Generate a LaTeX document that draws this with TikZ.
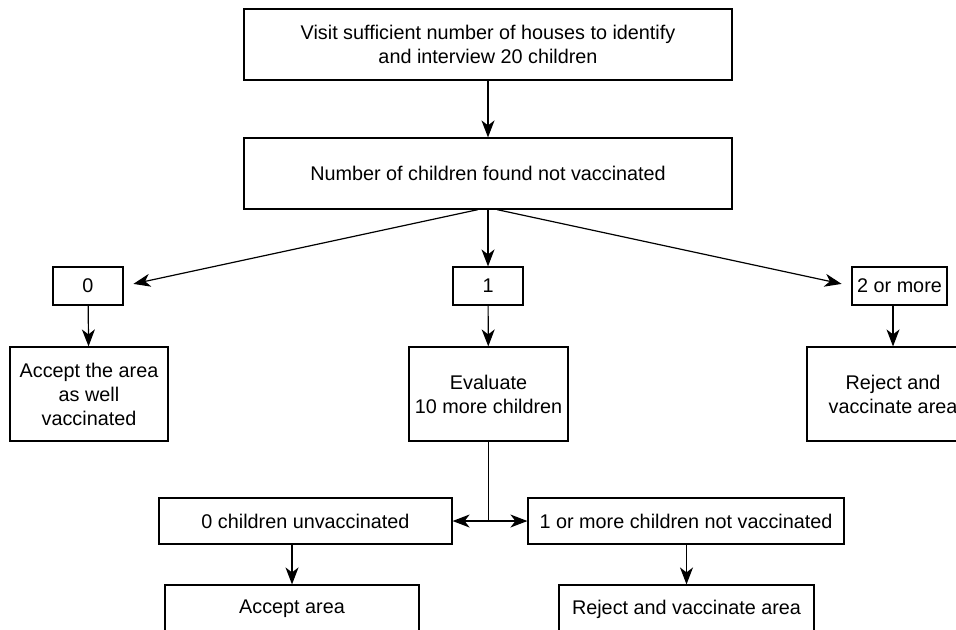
\documentclass[tikz,border=0pt]{standalone}
\usepackage{fontspec}
\setmainfont{Liberation Sans}
\usetikzlibrary{arrows.meta,positioning}
\tikzset{box/.style={
            draw,
            line width=0.6pt,
            align=center,
            inner sep=0pt,
            font=\fontsize{9.9}{12}\selectfont
        },
        bigbox/.style={
            box,
            minimum width=244pt,
            minimum height=35.5pt
        },
        choice/.style={
            box,
            minimum height=19pt
        },
        resultbox/.style={
            box,
            minimum height=47pt
        },
        branch/.style={
            box,
            minimum height=23pt
        },
        link/.style={
            -{Stealth[length=8.5pt,width=6.5pt,inset=2.5pt]},
            line width=0.6pt
        }
    }
\begin{document}
\begin{tikzpicture}[x=0.5pt,y=-0.5pt]
        \clip (0,0) rectangle (956,629);
        % survey
        \node[bigbox] at (488,44.5) (visit) {Visit sufficient number of houses to identify\\and interview 20 children};
        \node[bigbox] at (488,173.5) (count) {Number of children found not vaccinated};
        % outcomes
        \node[choice,minimum width=35pt] at (88,286) (zero) {0};
        \node[choice,minimum width=35pt] at (488,286) (one) {1};
        \node[choice,minimum width=47.5pt] at (899.5,286) (two) {2 or more};
        \node[resultbox,minimum width=79pt] at (89,394) (accept) {Accept the area\\as well\\vaccinated};
        \node[resultbox,minimum width=79.5pt] at (488.5,394) (evaluate) {Evaluate\\10 more children};
        \node[resultbox,minimum width=86pt] at (893,394) (reject) {Reject and\\vaccinate area};
        % second round
        \node[branch,minimum width=146.5pt] at (305.5,521) (none) {0 children unvaccinated};
        \node[branch,minimum width=158pt] at (686,521) (some) {1 or more children not vaccinated};
        \node[box,minimum width=127pt,minimum height=24pt] at (292,609) (acceptarea) {Accept area};
        \node[box,minimum width=127.5pt,minimum height=24pt] at (686.5,609) (rejectarea) {Reject and vaccinate area};
        \draw[link] (visit) -- (count);
        \draw[link] (count) -- (one);
        \draw[link,shorten >=5pt] ([xshift=-5pt]count.south) -- (zero.east);
        \draw[link,shorten >=5pt] ([xshift=4.5pt]count.south) -- (two.west);
        \draw[link] (zero) -- (accept);
        \draw[link] (one) -- (evaluate);
        \draw[link] (two.south -| reject.north) -- (reject.north);
        \draw[line width=0.6pt] (evaluate.south) -- (evaluate.south |- none.east);
        \draw[link,{Stealth[length=8.5pt,width=6.5pt,inset=2.5pt]}-{Stealth[length=8.5pt,width=6.5pt,inset=2.5pt]}] (none.east) -- (some.west);
        \draw[link] (acceptarea.north |- none.south) -- (acceptarea.north);
        \draw[link] (some.south -| rejectarea.north) -- (rejectarea.north);
    \end{tikzpicture}
\end{document}
